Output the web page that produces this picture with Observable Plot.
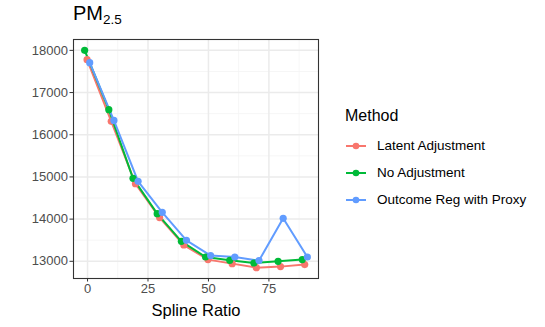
<!DOCTYPE html>
<html>
<head>
<meta charset="utf-8">
<script src="https://cdn.jsdelivr.net/npm/d3@7"></script>
<script src="https://cdn.jsdelivr.net/npm/@observablehq/plot@0.6"></script>
<style>
  body { margin: 0; background: #fff; font-family: "Liberation Sans", Arial, sans-serif; }
  #wrap { position: relative; width: 545px; height: 327px; }
  #title { position: absolute; left: 73px; top: 2px; font-size: 20px; color: #000; }
  #title sub { font-size: 13.5px; vertical-align: -4px; line-height: 0; }
  #legend { position: absolute; left: 345px; top: 107px; color: #000; }
  #legend .lt { font-size: 16px; margin-bottom: 7px; }
  #legend .item { display: flex; align-items: center; height: 27px; font-size: 13.5px; }
  #legend svg { margin-right: 10px; }
  svg.plot text { font-family: "Liberation Sans", Arial, sans-serif; }
  g[aria-label="x-axis tick label"] text, g[aria-label="y-axis tick label"] text { fill: #4d4d4d; }
</style>
</head>
<body>
<div id="wrap">
  <div id="chart"></div>
  <div id="title">PM<sub>2.5</sub></div>
  <div id="legend"></div>
</div>
<script>
const ratios = [0, 10, 20, 30, 40, 50, 60, 70, 80, 90];
const methods = ["Latent Adjustment", "No Adjustment", "Outcome Reg with Proxy"];
const latent  = [17780, 16318, 14841, 14036, 13386, 13040, 12945, 12850, 12874, 12922];
const noAdj   = [18000, 16595, 14967, 14130, 13474, 13102, 13024, 12960, 13000, 13040];
const outcome = [17708, 16340, 14896, 14161, 13498, 13135, 13102, 13017, 14019, 13102];
const dodge = [-0.2, -1.2, 0.9];
const colors = ["#F8766D", "#00BA38", "#619CFF"];
const xTicks = [0, 25, 50, 75];
const yTicks = [13000, 14000, 15000, 16000, 17000, 18000];

const series = [latent, noAdj, outcome];
const data = [];
methods.forEach((m, i) => series[i].forEach((v, j) => data.push({method: m, x: ratios[j] + dodge[i], y: v})));

const xe = d3.extent(data, d => d.x), ye = d3.extent(data, d => d.y);
const xp = (xe[1] - xe[0]) * 0.05, yp = (ye[1] - ye[0]) * 0.05;
const xDom = [xe[0] - xp, xe[1] + xp], yDom = [ye[0] - yp, ye[1] + yp];
const minorX = [-12.5, 12.5, 37.5, 62.5, 87.5].filter(v => v > xDom[0] && v < xDom[1]);
const minorY = [12500, 13500, 14500, 15500, 16500, 17500].filter(v => v > yDom[0] && v < yDom[1]);

const chart = Plot.plot({
  width: 545, height: 327,
  marginLeft: 73, marginRight: 227, marginTop: 39, marginBottom: 49,
  className: "plot",
  x: {domain: xDom},
  y: {domain: yDom},
  color: {domain: methods, range: colors},
  style: {fontFamily: "Liberation Sans, Arial, sans-serif", background: "#fff"},
  marks: [
    Plot.ruleX(minorX, {stroke: "#f4f4f4", strokeWidth: 0.8}),
    Plot.ruleY(minorY, {stroke: "#f4f4f4", strokeWidth: 0.8}),
    Plot.ruleX(xTicks, {stroke: "#ebebeb", strokeWidth: 1.5}),
    Plot.ruleY(yTicks, {stroke: "#ebebeb", strokeWidth: 1.5}),
    Plot.line(data, {x: "x", y: "y", z: "method", stroke: "method", strokeWidth: 2}),
    Plot.dot(data, {x: "x", y: "y", fill: "method", r: 3.6}),
    Plot.frame({stroke: "#333", strokeWidth: 1.1}),
    Plot.axisX({ticks: xTicks, tickSize: 3.5, tickPadding: 2, fontSize: 13, stroke: "#333", label: null}),
    Plot.axisY({ticks: yTicks, tickSize: 3.5, tickPadding: 2, fontSize: 13, stroke: "#333", label: null, tickFormat: d => String(d)}),
    Plot.text(["Spline Ratio"], {frameAnchor: "bottom", dy: 37, fontSize: 16.5, fill: "#000"})
  ]
});
document.getElementById("chart").appendChild(chart);

const leg = document.getElementById("legend");
leg.innerHTML = '<div class="lt">Method</div>' + methods.map((m, i) =>
  `<div class="item"><svg width="22" height="10"><line x1="1" x2="21" y1="5" y2="5" stroke="${colors[i]}" stroke-width="2"/><circle cx="11" cy="5" r="3.3" fill="${colors[i]}"/></svg>${m}</div>`).join("");
</script>
</body>
</html>
